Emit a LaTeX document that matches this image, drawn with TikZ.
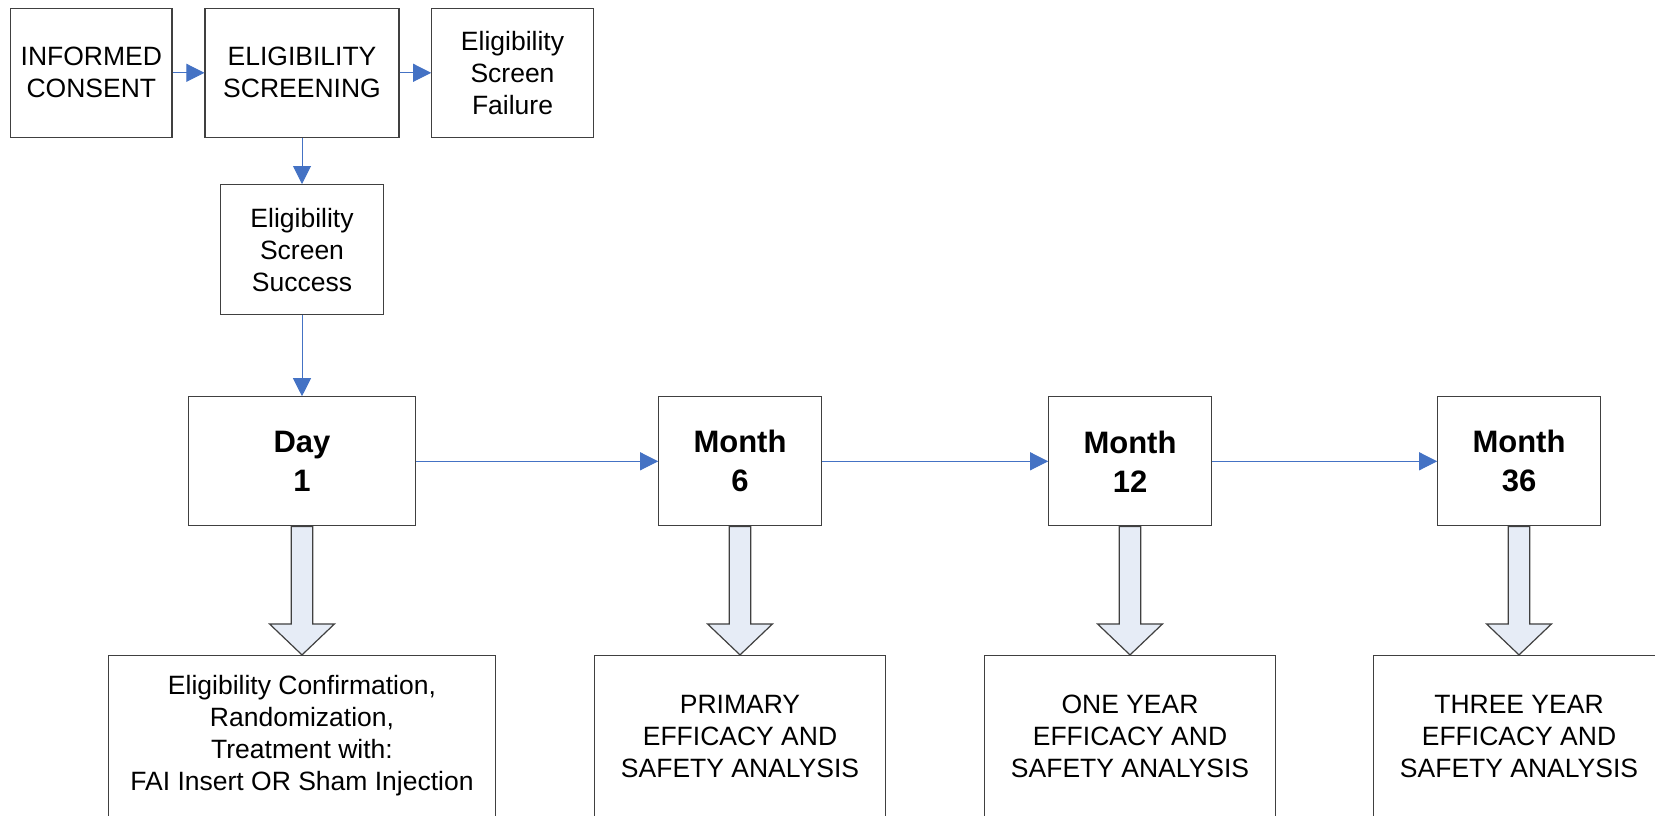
\documentclass[tikz,border=0pt]{standalone}
\usepackage{fontspec}
\setmainfont{Liberation Sans}
\usetikzlibrary{arrows.meta}
\definecolor{linkblue}{HTML}{4472C4}
\definecolor{paleblue}{HTML}{E6ECF6}

\begin{document}
\begin{tikzpicture}[x=1pt, y=-1pt, >={Triangle[length=18pt,width=18pt]},
  every node/.style={font=\fontsize{26.5}{32}\selectfont},
  box/.style={draw=black!75, line width=1.2pt, fill=white, align=center, inner sep=0pt},
  visit/.style={box, minimum width=162.5pt, minimum height=129pt, font=\bfseries\fontsize{31}{39}\selectfont},
  result/.style={box, minimum width=291pt, minimum height=161pt},
  link/.style={->, draw=linkblue, line width=1pt},
  bigarrow/.style={draw=black!75, line width=1.2pt, fill=paleblue}]
  \clip (0,0) rectangle (1655,815);
  \node[box, minimum width=161.5pt, minimum height=129pt] (consent) at (91.3,72.8) {INFORMED\\CONSENT};
  \node[box, minimum width=194pt, minimum height=129pt] (screen) at (302,72.8) {ELIGIBILITY\\SCREENING};
  \node[box, minimum width=161.5pt, minimum height=129pt] (fail) at (512.5,72.8) {Eligibility\\Screen\\Failure};
  \node[box, minimum width=162.5pt, minimum height=130pt] (success) at (302,249.6) {Eligibility\\Screen\\Success};

  \node[visit, minimum width=227pt] (day) at (302,461.3) {Day\\1};
  \node[visit] (m6) at (740,461.3) {Month\\6};
  \node[visit] (m12) at (1130,461.3) {Month\\12};
  \node[visit] (m36) at (1519,461.3) {Month\\36};

  \node[result, minimum width=387pt] (r1) at (302,736) {Eligibility Confirmation,\\Randomization,\\Treatment with:\\FAI Insert OR Sham Injection};
  \node[result] (r2) at (740,736) {PRIMARY\\EFFICACY AND\\SAFETY ANALYSIS};
  \node[result] (r3) at (1130,736) {ONE YEAR\\EFFICACY AND\\SAFETY ANALYSIS};
  \node[result] (r4) at (1519,736) {THREE YEAR\\EFFICACY AND\\SAFETY ANALYSIS};

  \draw[link] (consent) -- (screen);
  \draw[link] (screen) -- (fail);
  \draw[link] (screen) -- (success);
  \draw[link] (success) -- (day);
  \draw[link] (day) -- (m6);
  \draw[link] (m6) -- (m12);
  \draw[link] (m12) -- (m36);

  % hollow arrows down to the analyses
  \foreach \a/\b in {day/r1, m6/r2, m12/r3, m36/r4}
    \draw[bigarrow] ([xshift=-10.8pt]\a.south) -- ([xshift=-10.8pt,yshift=-97.5pt]\a.south)
      -- ([xshift=-32.5pt,yshift=-97.5pt]\a.south) -- (\b.north)
      -- ([xshift=32.5pt,yshift=-97.5pt]\a.south) -- ([xshift=10.8pt,yshift=-97.5pt]\a.south)
      -- ([xshift=10.8pt]\a.south) -- cycle;
\end{tikzpicture}
\end{document}
